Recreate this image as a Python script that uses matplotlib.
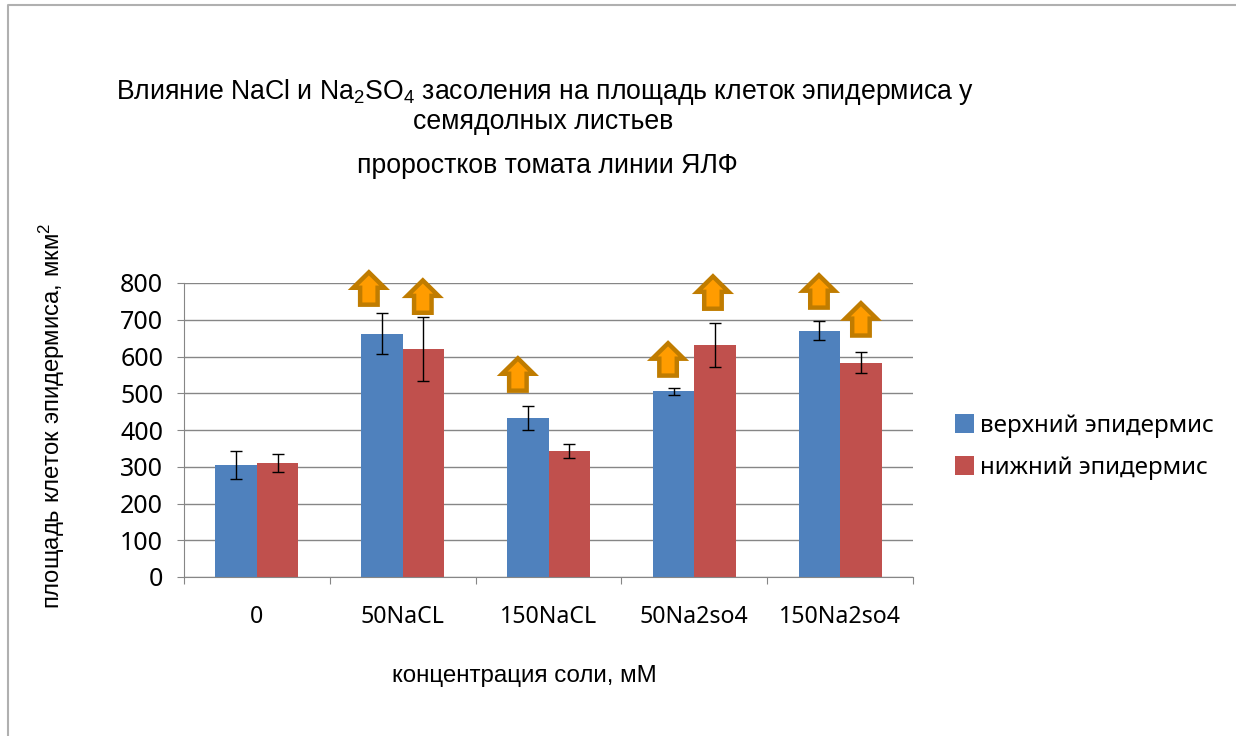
import numpy as np
import matplotlib
matplotlib.use("Agg")
import matplotlib.pyplot as plt
from matplotlib.patches import FancyArrow

plt.rcParams['font.family'] = ['Noto Sans', 'DejaVu Sans']
plt.rcParams['mathtext.default'] = 'regular'

# values
categories = ['0', '50NaCL', '150NaCL', '50Na2so4', '150Na2so4']
upper = [305, 662, 433, 505, 670]
upper_err = [39, 56, 33, 10, 26]
lower = [310, 620, 343, 632, 583]
lower_err = [24, 87, 18, 60, 28]

# arrows: x in category units, y of the tip in axis units
arrow_x = [0.768, 1.138, 1.79, 2.82, 3.128, 3.855, 4.143]
arrow_tip = [838, 816, 604, 645, 827, 830, 754]

W, H = 1236, 736
fig = plt.figure(figsize=(W / 100, H / 100), dpi=100)
ax = fig.add_axes([184 / W, 1 - 577 / H, (913 - 184) / W, (577 - 283) / H])

# outer frame of the pasted chart
fig.add_artist(plt.Line2D([8 / W, 8 / W, 1], [0, 1 - 5 / H, 1 - 5 / H], color='#b0b0b0', lw=1.5))

x = np.arange(len(categories))
w = 0.285
ekw = dict(ecolor='black', elinewidth=1, capsize=4, capthick=1)
ax.bar(x - w / 2, upper, w, color='#4f81bd', yerr=upper_err, error_kw=ekw, label='верхний эпидермис', zorder=2)
ax.bar(x + w / 2, lower, w, color='#c0504d', yerr=lower_err, error_kw=ekw, label='нижний эпидермис', zorder=2)

for ax_x, tip in zip(arrow_x, arrow_tip):
    ax.add_patch(FancyArrow(ax_x, tip - 97, 0, 88, width=0.12, head_width=0.215, head_length=42,
                            length_includes_head=True, facecolor='#ff9c00', edgecolor='#c07c00',
                            linewidth=3.2, joinstyle='miter', clip_on=False, zorder=4))

ax.set_xlim(-0.5, 4.5)
ax.set_ylim(0, 800)
ax.set_yticks(range(0, 801, 100))
ax.set_xticks(np.arange(-0.5, 5, 1))
ax.set_xticklabels([])
ax.set_xticks(x, categories, minor=True)
ax.tick_params(axis='x', which='minor', length=0, labelsize=16.7, pad=20)
ax.tick_params(axis='x', which='major', length=5, color='#868686')
ax.tick_params(axis='y', length=5, color='#868686', labelsize=18, pad=10)
ax.grid(axis='y', color='#868686', lw=1, zorder=0)
ax.set_axisbelow(True)
for s in ['top', 'right']:
    ax.spines[s].set_visible(False)
ax.spines['left'].set_color('#868686')
ax.spines['bottom'].set_color('#868686')

title_font = 'Liberation Sans'
fig.text(545 / W, 1 - 92 / H, 'Влияние NaCl и Na$_2$SO$_4$ засоления на площадь клеток эпидермиса у',
         family=title_font, fontsize=19.2, ha='center', va='center')
fig.text(543 / W, 1 - 122 / H, 'семядолных листьев', family=title_font, fontsize=19.2, ha='center', va='center')
fig.text(547 / W, 1 - 166 / H, 'проростков томата линии ЯЛФ', family=title_font, fontsize=19.2, ha='center', va='center')

fig.text(524 / W, 1 - 676 / H, 'концентрация соли, мМ', family=title_font, fontsize=17.4, ha='center', va='center')
fig.text(52 / W, 1 - 416 / H, 'площадь клеток эпидермиса, мкм$^2$', family=title_font, fontsize=17.2,
         rotation=90, ha='center', va='center')

fig.legend(*ax.get_legend_handles_labels(), loc='center left', bbox_to_anchor=(955 / W, 1 - 447 / H),
           frameon=False, fontsize=17.4, handlelength=0.8, handleheight=0.8, handletextpad=0.25,
           labelspacing=0.75, borderpad=0, borderaxespad=0)

fig.savefig('out.png', dpi=100)
